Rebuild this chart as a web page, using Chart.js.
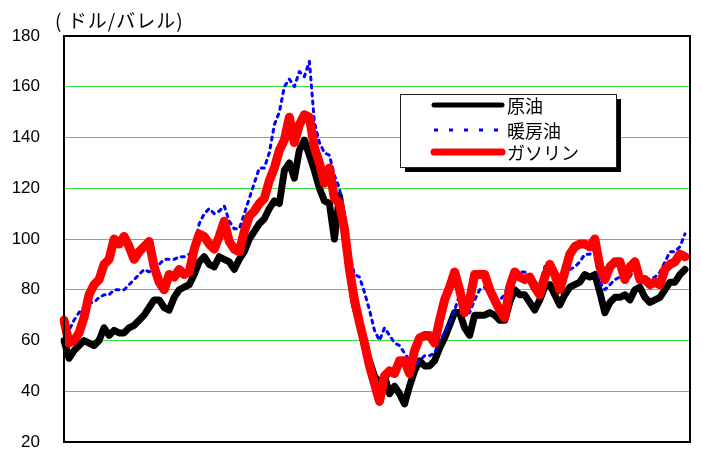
<!DOCTYPE html>
<html>
<head>
<meta charset="utf-8">
<script src="https://cdn.jsdelivr.net/npm/chart.js@4/dist/chart.umd.min.js"></script>
<style>
  body { margin: 0; background: #fff; }
</style>
</head>
<body>
<canvas id="oilChart" width="702" height="459"></canvas>
<script>
// prices, one value every few trading days
const crude = [
  60, 53, 56, 58, 60, 59, 58, 60, 65, 62,
  64, 63, 63, 65, 66, 68, 70, 73, 76, 76,
  73, 72, 77, 80, 81, 82, 86, 91, 93, 90,
  89, 93, 92, 91, 88, 92, 95, 100, 103, 106,
  108, 112, 115, 114, 127, 130, 124, 135, 139, 133,
  127, 120, 115, 114, 100, 117, 104, 87, 74, 67,
  58, 52, 46, 43, 46, 39, 42, 39, 35, 42,
  48, 52, 50, 50, 52, 57, 61, 66, 71, 71,
  65, 62, 70, 70, 70, 71, 70, 68, 68, 75,
  80, 78, 78, 75, 72, 76, 81, 82, 78, 74,
  78, 81, 82, 83, 86, 85, 86, 79, 71, 75,
  77, 77, 78, 76, 80, 81, 77, 75, 76, 77,
  80, 83, 83, 86, 88
];
const heatingOil = [
  63, 64, 68, 71, 73, 75, 75, 77, 78, 78,
  80, 80, 80, 82, 84, 86, 88, 87, 89, 90,
  92, 92, 92, 93, 93, 94, 96, 106, 110, 112,
  110, 111, 113, 107, 104, 104, 110, 116, 122, 128,
  128, 134, 145, 150, 160, 163, 160, 166, 164, 170,
  146, 138, 134, 133, 125, 120, 108, 94, 86, 85,
  79, 72, 64, 60, 65, 62, 59, 58, 55, 52,
  50, 52, 54, 54, 55, 60, 63, 67, 72, 78,
  75, 71, 76, 80, 81, 78, 76, 76, 78, 84,
  88, 87, 87, 85, 83, 82, 89, 91, 88, 83,
  87, 88, 89, 91, 94, 94, 97, 83, 80, 82,
  84, 85, 84, 85, 89, 84, 85, 84, 85, 87,
  91, 95, 95, 97, 102
];
const gasoline = [
  68, 59, 60, 63, 69, 78, 82, 84, 90, 92,
  100, 98, 101, 97, 92, 95, 97, 99, 89, 83,
  80, 86, 85, 88, 86, 87, 96, 102, 101, 98,
  96, 101, 107, 99, 96, 95, 103, 109, 111, 114,
  116, 123, 128, 135, 139, 148, 138, 145, 149, 148,
  136, 130, 122, 128, 116, 114, 104, 88, 76, 67,
  59, 50, 43, 36, 46, 48, 47, 52, 52, 47,
  56, 61, 62, 62, 59, 68, 76, 81, 87, 80,
  71, 76, 86, 86, 86, 80, 76, 72, 69, 81,
  87, 85, 84, 85, 81, 78, 85, 90, 86, 80,
  87, 94, 97, 98, 98, 97, 100, 89, 84, 89,
  91, 91, 84, 89, 91, 84, 84, 82, 83, 82,
  88, 90, 91, 94, 93
];
const seriesNames = ["原油", "暖房油", "ガソリン"];
const unitLabel = "( ドル/バレル)";
const yTicks = [20, 40, 60, 80, 100, 120, 140, 160, 180];

// one extra empty slot so the lines stop a little short of the right edge
const days = Array.from({ length: crude.length + 1 }, (_, i) => i);

// frame, unit label and the boxed legend with its drop shadow
const framePlugin = {
  id: "frameAndLegend",
  afterDatasetsDraw(chart) {
    const { ctx, chartArea: a } = chart;
    ctx.save();
    ctx.strokeStyle = "#000";
    ctx.lineWidth = 2;
    ctx.strokeRect(a.left, a.top, a.right - a.left, a.bottom - a.top);

    ctx.fillStyle = "#000";
    ctx.font = '19px "Noto Sans CJK JP"';
    ctx.letterSpacing = "1px";
    ctx.textBaseline = "middle";
    ctx.textAlign = "left";
    ctx.fillText(unitLabel, a.left - 9, a.top - 15);
    ctx.letterSpacing = "0px";

    const bx = a.left + 336, by = a.top + 58, bw = 216, bh = 73;
    ctx.fillRect(bx + 5, by + 5, bw, bh);
    ctx.fillStyle = "#fff";
    ctx.fillRect(bx, by, bw, bh);
    ctx.lineWidth = 1;
    ctx.strokeStyle = "#222";
    ctx.strokeRect(bx + 0.5, by + 0.5, bw, bh);

    // legend rows: crude, heating oil, gasoline
    const rows = [
      { ds: chart.data.datasets[2], y: 11, width: 5, dash: [] },
      { ds: chart.data.datasets[1], y: 36, width: 3, dash: [4, 11] },
      { ds: chart.data.datasets[0], y: 58, width: 7, dash: [] },
    ];
    rows.forEach((r) => {
      const y = by + r.y;
      ctx.beginPath();
      ctx.strokeStyle = r.ds.borderColor;
      ctx.lineWidth = r.width;
      ctx.lineCap = r.dash.length ? "butt" : "round";
      ctx.setLineDash(r.dash);
      ctx.moveTo(bx + 34, y);
      ctx.lineTo(bx + 102, y);
      ctx.stroke();
      ctx.setLineDash([]);
      ctx.fillStyle = "#000";
      ctx.font = '18px "Noto Sans CJK JP"';
      ctx.fillText(r.ds.label, bx + 107, y + 1);
    });
    ctx.restore();
  },
};

new Chart(document.getElementById("oilChart"), {
  type: "line",
  data: {
    labels: days,
    datasets: [
      {
        label: seriesNames[2],
        data: gasoline,
        borderColor: "#ff0000",
        borderWidth: 9,
        order: 0,
      },
      {
        label: seriesNames[1],
        data: heatingOil,
        borderColor: "#0000ff",
        borderWidth: 3,
        borderDash: [3, 5],
        order: 1,
      },
      {
        label: seriesNames[0],
        data: crude,
        borderColor: "#000000",
        borderWidth: 7,
        order: 2,
      },
    ],
  },
  options: {
    responsive: false,
    animation: false,
    layout: { padding: { top: 36, right: 12, bottom: 17, left: 0 } },
    elements: {
      point: { radius: 0 },
      line: { tension: 0, borderJoinStyle: "round", borderCapStyle: "round", fill: false },
    },
    scales: {
      x: { display: false },
      y: {
        min: 20,
        max: 180,
        afterFit: (s) => {
          s.width = 64;
          s.paddingTop = 0;
          s.paddingBottom = 0;
        },
        afterBuildTicks: (s) => { s.ticks = yTicks.map((v) => ({ value: v })); },
        border: { display: false },
        grid: {
          drawTicks: false,
          color: (c) => (c.tick && (c.tick.value === 20 || c.tick.value === 180) ? "rgba(0,0,0,0)" : "#3be03b"),
          lineWidth: 1,
        },
        ticks: {
          padding: 24,
          color: "#000",
          font: { family: "Liberation Sans", size: 17 },
        },
      },
    },
    plugins: {
      legend: { display: false },
      tooltip: { enabled: false },
    },
  },
  plugins: [framePlugin],
});
</script>
</body>
</html>
